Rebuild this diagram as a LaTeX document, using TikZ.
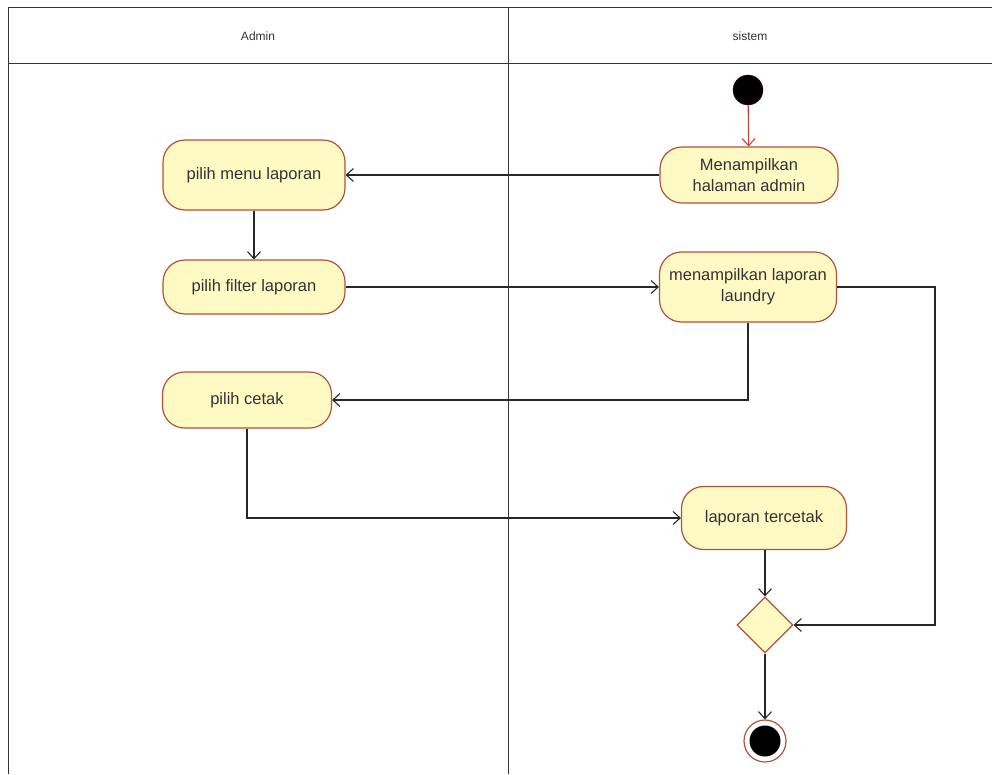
\documentclass[tikz,border=0pt]{standalone}
\usepackage{fontspec}
\setmainfont{Liberation Sans}
\usetikzlibrary{arrows.meta,shapes.geometric}
\definecolor{actfill}{RGB}{255,250,196}
\definecolor{actline}{RGB}{178,82,58}
\definecolor{flow}{RGB}{40,40,40}
\definecolor{startred}{RGB}{205,60,50}
\tikzset{
  activity/.style={draw=actline, fill=actfill, line width=1.2pt, rounded corners=22pt,
    align=center, font=\fontsize{16.5}{21}\selectfont, text=black!80, inner sep=0pt},
  decision/.style={diamond, draw=actline, fill=actfill, line width=1.2pt,
    minimum width=56pt, minimum height=56pt, inner sep=0pt},
  flowline/.style={draw=flow, line width=1.1pt, -{Straight Barb[length=7pt,width=13pt,line width=1.1pt]}},
  lane/.style={draw=black!80, line width=1pt},
  lanetitle/.style={font=\fontsize{12}{14}\selectfont, text=black!80}
}
\begin{document}
\begin{tikzpicture}[x=1pt,y=-1pt]
\useasboundingbox (0,0) rectangle (992,774);
% swimlane frame
\draw[lane] (8,774) -- (8,7) -- (992,7);
\draw[lane] (8,63) -- (992,63);
\draw[lane] (508,7) -- (508,774);
\node[lanetitle] (laneA) at (258,36) {Admin};
\node[lanetitle] (laneS) at (750,36) {sistem};

% initial and final states
\node[circle, fill=black, draw=black!70!red, minimum size=30pt, inner sep=0pt] (start) at (748,90) {};
\node[circle, draw=actline, fill=white, line width=1.2pt, minimum size=42pt, inner sep=0pt] (final) at (765,741) {};
\node[circle, fill=black, minimum size=31pt, inner sep=0pt] (finaldot) at (765,741) {};

% activities
\node[activity, minimum width=178pt, minimum height=56pt] (home) at (749,175) {Menampilkan\\halaman admin};
\node[activity, minimum width=182pt, minimum height=70pt] (menu) at (254,175) {pilih menu laporan};
\node[activity, minimum width=182pt, minimum height=54pt] (filter) at (254,287) {pilih filter laporan};
\node[activity, minimum width=177pt, minimum height=70pt] (report) at (748,287) {menampilkan laporan\\laundry};
\node[activity, minimum width=169pt, minimum height=56pt] (print) at (247,400) {pilih cetak};
\node[activity, minimum width=165pt, minimum height=63pt] (printed) at (764,518) {laporan tercetak};
\node[decision] (merge) at (765,625) {};

% control flow
\draw[flowline, draw=startred, -{Straight Barb[length=7pt,width=13pt,line width=1.1pt,color=startred]}] (start) -- (home);
\draw[flowline] (home) -- (menu);
\draw[flowline] (menu.south) -- (filter.north);
\draw[flowline] (filter) -- (report);
\draw[flowline] (report.south) |- (print.east);
\draw[flowline] (report.east) -- (935,287) |- (merge.east);
\draw[flowline] (print.south) |- (printed.west);
\draw[flowline] (printed.south -| merge.north) -- (merge.north);
\draw[flowline] (merge.south) -- (final.north);
\end{tikzpicture}
\end{document}
